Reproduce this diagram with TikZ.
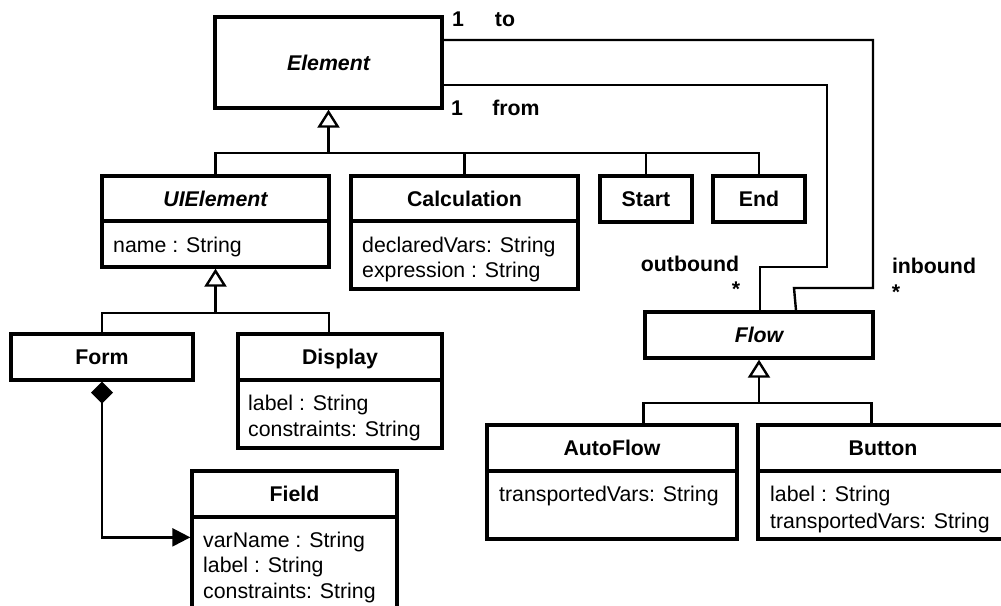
\documentclass[tikz,border=0pt]{standalone}
\usepackage{fontspec}
\setmainfont{Liberation Sans}
\usetikzlibrary{arrows.meta}
\begin{document}
\begin{tikzpicture}[x=1pt,y=-1pt,
  txt/.style={font=\fontsize{21.3}{25}\selectfont},
  cbox/.style={draw, line width=3.3pt, inner sep=0pt, text height=15.3pt, text depth=0pt, font=\fontsize{21.3}{25}\selectfont\bfseries},
  abox/.style={cbox, font=\fontsize{21.3}{25}\selectfont\bfseries\itshape},
  attr/.style={txt, anchor=base west, inner sep=0pt},
  lbl/.style={anchor=base, inner sep=0pt, font=\fontsize{21.3}{25}\selectfont\bfseries},
  conn/.style={line width=2.4pt},
  gen/.style={conn, -{Triangle[open, length=18pt, width=22pt]}},
]
\useasboundingbox (0,0) rectangle (1001,605);
\clip (0,0) rectangle (1001,605);

% classes
\node[abox, minimum width=227pt, minimum height=91pt] (el) at (328.5,62.5) {Element};

\node[abox, minimum width=227pt, minimum height=45pt] (ui) at (215.5,198.5) {UIElement};
\node[cbox, minimum width=227pt, minimum height=46pt] (uiA) at (215.5,244) {};
\node[attr] (uia1) at (113,252) {name : String};

\node[cbox, minimum width=227pt, minimum height=45pt] (calc) at (464.5,198.5) {Calculation};
\node[cbox, minimum width=227pt, minimum height=68pt] (calcA) at (464.5,255) {};
\node[attr] (calca1) at (362,252) {declaredVars: String};
\node[attr] (calca2) at (362,277) {expression : String};

\node[cbox, minimum width=92pt, minimum height=46pt] (start) at (646,199) {Start};
\node[cbox, minimum width=92pt, minimum height=46pt] (endb) at (759,199) {End};

\node[cbox, minimum width=182pt, minimum height=46pt] (form) at (102,357) {Form};

\node[cbox, minimum width=204pt, minimum height=46pt] (disp) at (340,357) {Display};
\node[cbox, minimum width=204pt, minimum height=68pt] (dispA) at (340,414) {};
\node[attr] (dispa1) at (248,410) {label : String};
\node[attr] (dispa2) at (248,436) {constraints: String};

\node[cbox, minimum width=205pt, minimum height=46pt] (field) at (294.5,494) {Field};
\node[cbox, minimum width=205pt, minimum height=110pt] (fieldA) at (294.5,572) {};
\node[attr] (fielda1) at (203,547) {varName : String};
\node[attr] (fielda2) at (203,572.5) {label : String};
\node[attr] (fielda3) at (203,598) {constraints: String};

\node[abox, minimum width=228pt, minimum height=46pt] (flow) at (759,335) {Flow};

\node[cbox, minimum width=250pt, minimum height=46pt] (af) at (612,448) {AutoFlow};
\node[cbox, minimum width=250pt, minimum height=68pt] (afA) at (612,505) {};
\node[attr] (afa1) at (499,501) {transportedVars: String};

\node[cbox, minimum width=250pt, minimum height=46pt] (btn) at (883,448) {Button};
\node[cbox, minimum width=250pt, minimum height=68pt] (btnA) at (883,505) {};
\node[attr] (btna1) at (770,501) {label : String};
\node[attr] (btna2) at (770,528) {transportedVars: String};

% generalization: Element
\coordinate (j1) at (328.5,153);
\draw[gen] (j1) -- (el.south);
\draw[conn] (ui.north) |- (endb.north |- j1) -- (endb.north);
\draw[conn] (calc.north) -- (calc.north |- j1);
\draw[conn] (start.north) -- (start.north |- j1);

% generalization: UIElement
\coordinate (j2) at (215.5,313);
\draw[gen] (j2) -- (uiA.south);
\draw[conn] (form.north) |- (j2) -| ([xshift=-11pt]disp.north);

% generalization: Flow
\coordinate (j3) at (759,403);
\draw[gen] (j3) -- (flow.south);
\draw[conn] ([xshift=158pt]af.north west) |- (j3) -| ([xshift=115pt]btn.north west);

% composition Form - Field
\draw[conn, {Diamond[length=22pt,width=22pt]}-{Triangle[length=18pt,width=18pt]}]
  (form.south) |- ([yshift=-22pt]fieldA.north west);

% associations
\draw[conn] (el.east |- 0,40) -- (873,40) -- (873,288) -- (794,288) -- (flow.north -| 796,0);
\draw[conn] (el.east |- 0,85) -- (827,85) -- (827,267) -- (760,267) -- (flow.north -| 760,0);

% role labels
\node[lbl] (m1) at (458,26) {1};
\node[lbl] (rto) at (505,26) {to};
\node[lbl] (m2) at (457,115) {1};
\node[lbl] (rfrom) at (516,115) {from};
\node[lbl] (rout) at (690,271) {outbound};
\node[lbl] (mout) at (736,296) {*};
\node[lbl] (rin) at (934,273) {inbound};
\node[lbl] (min) at (896,299) {*};
\end{tikzpicture}
\end{document}
